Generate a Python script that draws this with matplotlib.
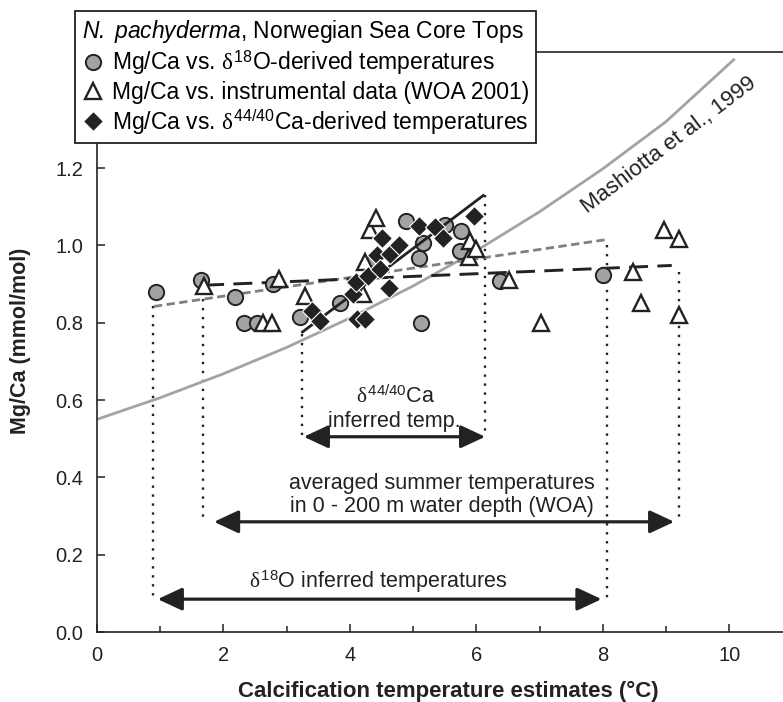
import matplotlib
matplotlib.use('Agg')
import matplotlib.pyplot as plt
from matplotlib.lines import Line2D

plt.rcParams['font.family'] = ['Liberation Sans', 'DejaVu Sans']
plt.rcParams['mathtext.fontset'] = 'custom'
plt.rcParams['mathtext.rm'] = 'Liberation Sans'
plt.rcParams['mathtext.it'] = 'Liberation Serif'
plt.rcParams['mathtext.sf'] = 'Liberation Sans:italic'
plt.rcParams['mathtext.bf'] = 'Liberation Sans:bold'

# Mg/Ca vs d18O-derived temperatures (grey circles)
circ_x = [0.93, 1.64, 2.19, 2.33, 2.53, 2.78, 3.21, 3.84, 4.31, 4.89, 5.10, 5.12, 5.16, 5.50, 5.74, 5.75, 6.38, 8.00]
circ_y = [0.88, 0.91, 0.867, 0.80, 0.80, 0.90, 0.815, 0.85, 0.953, 1.062, 0.966, 0.80, 1.005, 1.052, 0.986, 1.038, 0.907, 0.923]

# Mg/Ca vs instrumental data, WOA 2001 (open triangles)
tri_x = [1.70, 2.62, 2.76, 2.88, 3.29, 4.21, 4.24, 4.32, 4.42, 5.88, 5.90, 6.00, 6.52, 7.02, 8.48, 8.60, 8.96, 9.20, 9.20]
tri_y = [0.894, 0.80, 0.80, 0.914, 0.87, 0.875, 0.958, 1.04, 1.07, 0.97, 1.01, 0.99, 0.91, 0.80, 0.93, 0.85, 1.04, 1.016, 0.82]

# Mg/Ca vs d44/40Ca-derived temperatures (black diamonds)
dia_x = [3.40, 3.53, 4.05, 4.10, 4.12, 4.24, 4.29, 4.43, 4.48, 4.50, 4.62, 4.64, 4.78, 5.10, 5.34, 5.48, 5.96]
dia_y = [0.83, 0.805, 0.875, 0.905, 0.81, 0.81, 0.92, 0.975, 0.94, 1.018, 0.89, 0.977, 1.0, 1.05, 1.047, 1.02, 1.077]

# fitted lines (end points)
woa_fit_x = [1.71, 9.09]
woa_fit_y = [0.897, 0.948]
d18_fit_x = [0.90, 8.06]
d18_fit_y = [0.842, 1.015]
ca_fit_x = [3.25, 6.11]
ca_fit_y = [0.776, 1.129]

# Mashiotta et al. 1999 calibration curve
mash_x = [0, 1, 2, 3, 4, 5, 6, 7, 8, 9, 10.07]
mash_y = [0.55, 0.606, 0.668, 0.736, 0.812, 0.895, 0.986, 1.087, 1.198, 1.32, 1.48]

# dotted range markers: x, top, bottom
range_x = [0.89, 1.67, 3.24, 6.13, 8.06, 9.21]
range_top = [0.842, 0.86, 0.77, 1.129, 1.0, 0.93]
range_bot = [0.09, 0.29, 0.51, 0.51, 0.085, 0.29]

# double arrows: start, end, level
arrow_x0 = [3.27, 1.85, 0.96]
arrow_x1 = [6.14, 9.13, 7.98]
arrow_y = [0.505, 0.285, 0.085]

ink = '#222222'

fig = plt.figure(figsize=(7.83, 7.02), dpi=100)
ax = fig.add_axes([0.1239, 0.0997, 0.8761, 0.8262])

ax.plot(mash_x, mash_y, color='#a3a3a3', lw=2.0, zorder=2)
ax.plot(d18_fit_x, d18_fit_y, color='#808080', lw=2.0, dashes=(3.0, 1.6), zorder=2)
ax.plot(woa_fit_x, woa_fit_y, color=ink, lw=2.1, dashes=(6.5, 3.2), zorder=2)

for x, t, b in zip(range_x, range_top, range_bot):
    ax.plot([x, x], [t, b], color=ink, lw=1.7, ls=(0, (1, 2.8)), zorder=1)

for x0, x1, y in zip(arrow_x0, arrow_x1, arrow_y):
    ax.annotate('', xy=(x1, y), xytext=(x0, y),
                arrowprops=dict(arrowstyle='<|-|>,head_length=0.75,head_width=0.35',
                                lw=2.3, color=ink, shrinkA=0, shrinkB=0,
                                mutation_scale=20))

ax.plot(circ_x, circ_y, ls='none', marker='o', ms=11, mfc='#a3a3a3', mec=ink, mew=1.4, zorder=3)
ax.plot(tri_x, tri_y, ls='none', marker='^', ms=11, mfc='white', mec=ink, mew=1.7, zorder=3)
ax.plot(ca_fit_x, ca_fit_y, color=ink, lw=2.0, zorder=4)
ax.plot(dia_x, dia_y, ls='none', marker='D', ms=10, mfc=ink, mec='white', mew=0.8, zorder=5)

ax.text(4.72, 0.592, r'$\delta^{44/40}$Ca', ha='center', va='baseline', fontsize=15.5, color=ink)
ax.text(4.70, 0.529, 'inferred temp.', ha='center', va='baseline', fontsize=15.5, color=ink)
ax.text(5.45, 0.371, 'averaged summer temperatures', ha='center', va='baseline', fontsize=15.5, color=ink)
ax.text(5.45, 0.311, 'in 0 - 200 m water depth (WOA)', ha='center', va='baseline', fontsize=15.5, color=ink)
ax.text(4.45, 0.113, r'$\delta^{18}$O inferred temperatures', ha='center', va='baseline', fontsize=15.5, color=ink)
ax.text(9.05, 1.26, 'Mashiotta et al., 1999', ha='center', va='center', rotation=37,
        rotation_mode='anchor', fontsize=16, color=ink)

ax.set_xlim(0, 10.85)
ax.set_ylim(0, 1.5)
ax.set_xticks(range(0, 11, 2))
ax.set_xticks(range(1, 11, 2), minor=True)
ax.set_yticks([0.0, 0.2, 0.4, 0.6, 0.8, 1.0, 1.2])
ax.set_yticklabels(['0.0', '0.2', '0.4', '0.6', '0.8', '1.0', '1.2'])
ax.tick_params(which='major', direction='in', length=6, width=1.1, labelsize=14.5, pad=10, colors=ink)
ax.tick_params(which='minor', direction='in', length=4, width=1.1, colors=ink)
ax.spines['right'].set_visible(False)
for s in ['left', 'bottom', 'top']:
    ax.spines[s].set_linewidth(1.2)
    ax.spines[s].set_color(ink)

ax.set_xlabel('Calcification temperature estimates (°C)', fontsize=16, fontweight='bold', color=ink, va='center')
ax.set_ylabel('Mg/Ca (mmol/mol)', fontsize=15.5, fontweight='bold', color=ink, va='center')
ax.xaxis.set_label_coords(0.512, -0.102)
ax.yaxis.set_label_coords(-0.112, 0.502)

handles = [
    Line2D([], [], ls='none', marker='o', ms=11, mfc='#a3a3a3', mec=ink, mew=1.4),
    Line2D([], [], ls='none', marker='^', ms=11, mfc='white', mec=ink, mew=1.7),
    Line2D([], [], ls='none', marker='D', ms=10, mfc=ink, mec='white', mew=0.8),
]
labels = [
    r'Mg/Ca vs. $\delta^{18}$O-derived temperatures',
    'Mg/Ca vs. instrumental data (WOA 2001)',
    r'Mg/Ca vs. $\delta^{44/40}$Ca-derived temperatures',
]
leg = ax.legend(handles, labels, title=r'$\mathsf{N.\ pachyderma}$, Norwegian Sea Core Tops',
                loc='upper left', bbox_to_anchor=(0.0958, 0.984), bbox_transform=fig.transFigure,
                fontsize=16.5, title_fontsize=16.5, alignment='left', frameon=True, fancybox=False,
                framealpha=1, edgecolor=ink, handletextpad=0.3, handlelength=1.0,
                labelspacing=0.15, borderpad=0.3, borderaxespad=0)
leg.get_frame().set_linewidth(1.3)
leg.set_zorder(10)

fig.savefig('out.png', dpi=100)
